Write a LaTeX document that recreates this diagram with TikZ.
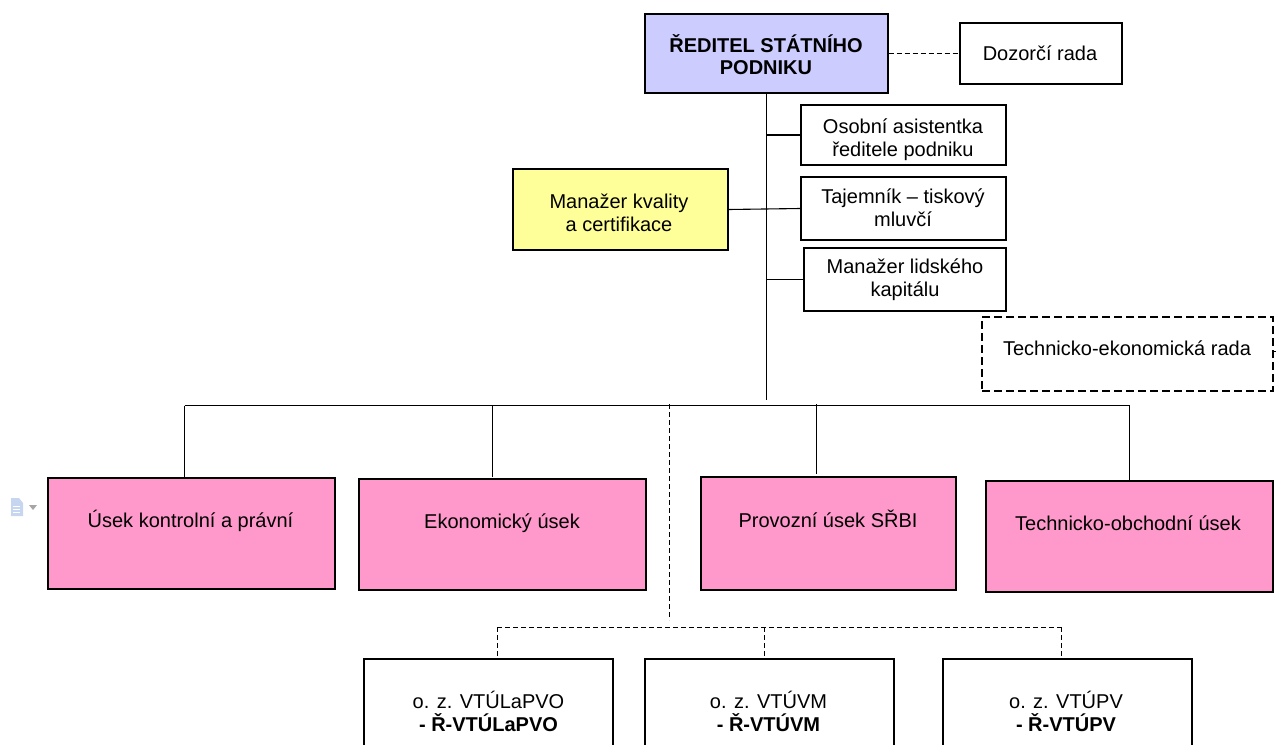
\documentclass[tikz,border=0pt]{standalone}
\usepackage{fontspec}
\setmainfont{Liberation Sans}
\definecolor{lavender}{RGB}{204,204,255}
\definecolor{pinkbox}{RGB}{255,153,204}
\definecolor{yellowbox}{RGB}{255,255,153}
\definecolor{iconblue}{RGB}{198,214,240}
\tikzset{
  box/.style={draw,line width=1.1pt,inner sep=0pt},
  txt/.style={align=center,inner sep=0pt,font=\fontsize{20}{23}\selectfont},
  link/.style={line width=1.1pt},
  dashlink/.style={line width=1pt,dash pattern=on 5pt off 3pt}
}
\begin{document}
\begin{tikzpicture}[x=1pt,y=-1pt]
  \useasboundingbox (0,0) rectangle (1276,744);
  \clip (0,0) rectangle (1276,744);

  % top of the tree
  \node[box,fill=lavender,minimum width=243,minimum height=79] (reditel) at (766.5,53.5) {};
  \node[txt,font=\fontsize{20}{22.5}\selectfont\bfseries] (reditelt) at (766,54.5) {ŘEDITEL STÁTNÍHO\\PODNIKU};
  \node[box,minimum width=162,minimum height=61] (dozor) at (1041,53.5) {};
  \node[txt] (dozort) at (1040,53.5) {Dozorčí rada};
  \node[box,minimum width=205,minimum height=60] (osobni) at (903.5,135) {};
  \node[txt] (osobnit) at (903,139.5) {Osobní asistentka\\ředitele podniku};
  \node[box,minimum width=205,minimum height=63] (tajem) at (903.5,208.5) {};
  \node[txt] (tajemt) at (903,207.5) {Tajemník – tiskový\\mluvčí};
  \node[box,fill=yellowbox,minimum width=215,minimum height=81] (kvalita) at (620.5,209.5) {};
  \node[txt] (kvalitat) at (619,212.5) {Manažer kvality\\a certifikace};
  \node[box,minimum width=202,minimum height=63] (lidsky) at (905,279.5) {};
  \node[txt] (lidskyt) at (905,280) {Manažer lidského\\kapitálu};
  \node[box,dash pattern=on 8pt off 4pt,minimum width=291,minimum height=74] (rada) at (1127.5,354) {};
  \node[txt] (radat) at (1127,348) {Technicko-ekonomická rada};

  % useky
  \node[box,fill=pinkbox,minimum width=287,minimum height=111] (usekk) at (191.5,533.5) {};
  \node[txt] (usekkt) at (190.5,520.5) {Úsek kontrolní a právní};
  \node[box,fill=pinkbox,minimum width=287,minimum height=111] (useke) at (502.5,534.5) {};
  \node[txt] (usekett) at (502,523.5) {Ekonomický úsek};
  \node[box,fill=pinkbox,minimum width=255,minimum height=113] (usekp) at (828.5,533.5) {};
  \node[txt] (usekpt) at (828,519) {Provozní úsek SŘBI};
  \node[box,fill=pinkbox,minimum width=287,minimum height=111] (usekt) at (1129.5,536.5) {};
  \node[txt] (usektt) at (1128,523) {Technicko-obchodní úsek};

  % odstepne zavody
  \node[box,minimum width=249,minimum height=140] (ozl) at (488.5,729) {};
  \node[txt] (ozlt) at (488.5,711.5) {o. z. VTÚLaPVO\\\textbf{- Ř-VTÚLaPVO}};
  \node[box,minimum width=249,minimum height=140] (ozm) at (769.5,729) {};
  \node[txt] (ozmt) at (768.5,711.5) {o. z. VTÚVM\\\textbf{- Ř-VTÚVM}};
  \node[box,minimum width=249,minimum height=140] (ozp) at (1067.5,729) {};
  \node[txt] (ozpt) at (1066,711.5) {o. z. VTÚPV\\\textbf{- Ř-VTÚPV}};

  % free ends of the connectors
  \coordinate (trunkend) at (766.5,400);
  \coordinate (busl) at (184.5,405.5);
  \coordinate (busr) at (1129.5,405.5);
  \coordinate (buse) at (492.5,405.5);
  \coordinate (busp) at (816.5,404);
  \coordinate (dashtop) at (669.5,404);
  \coordinate (dashend) at (669.5,620);
  \coordinate (dbusl) at (497,627);
  \coordinate (dbusm) at (764,627);
  \coordinate (dbusr) at (1061,627);
  \coordinate (radatick) at (1276,351);

  \draw[dashlink] (reditel.east |- dozor.west) -- (dozor.west);
  \draw[link] (reditel.south) -- (trunkend);
  \draw[link] (osobni.west) -- (osobni.west -| trunkend);
  \draw[link] (lidsky.west) -- (lidsky.west -| trunkend);
  \draw[link] (kvalita.east) -- (tajem.west);

  \draw[link] (busl) -- (busr);
  \draw[link] (busl) -- (busl |- usekk.north);
  \draw[link] (buse) -- (buse |- usekk.north);
  \draw[link] (busp) -- ++(0,70);
  \draw[link] (busr) -- (busr |- usekt.north);

  \draw[dashlink] (dashtop) -- (dashend);
  \draw[dashlink] (dbusl) -- (dbusr);
  \draw[dashlink] (dbusl) -- (dbusl |- ozl.north);
  \draw[dashlink] (dbusm) -- (dbusm |- ozm.north);
  \draw[dashlink] (dbusr) -- (dbusr |- ozp.north);
  \draw[line width=1pt] (radatick) -- ++(-3,0) -- ++(0,4);

  % small icon left of the first box
  \fill[iconblue] (11,498) -- (19,498) -- (23,503) -- (23,516) -- (11,516) -- cycle;
  \draw[white,line width=0.7pt] (13,506) -- (20,506) (13,509) -- (20,509) (13,512) -- (20,512);
  \fill[black!35] (29,505) -- (37,505) -- (33,510) -- cycle;
\end{tikzpicture}
\end{document}
